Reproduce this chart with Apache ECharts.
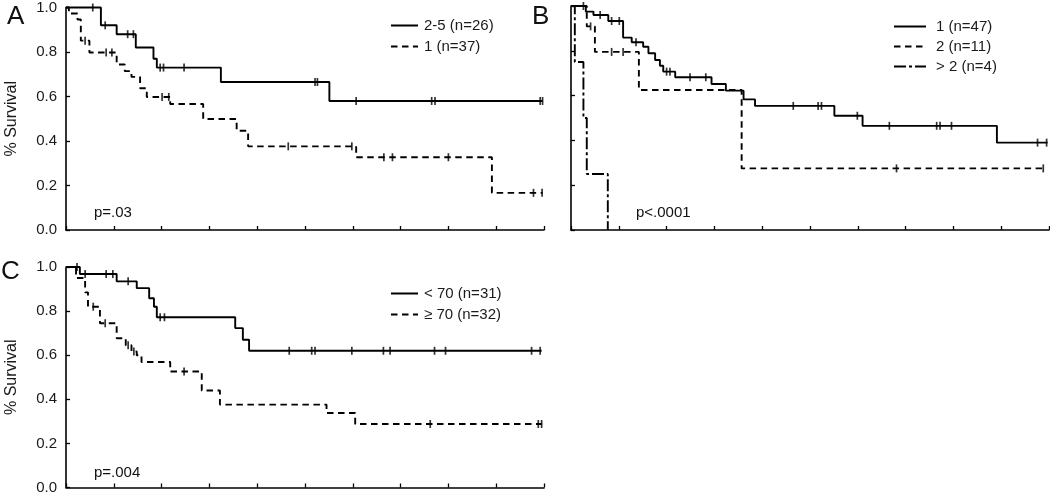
<!DOCTYPE html>
<html><head><meta charset="utf-8">
<script src="https://cdn.jsdelivr.net/npm/echarts@6/dist/echarts.min.js"></script>
<style>html,body{margin:0;padding:0;background:#fff}#c{width:1050px;height:495px}</style>
</head><body><div id="c"></div>
<script>
const FONT = '"Liberation Sans", Arial, sans-serif';
const yTickLabels = ['0.0', '0.2', '0.4', '0.6', '0.8', '1.0'];
const panelLetters = ['A', 'B', 'C'];
const pValues = ['p=.03', 'p<.0001', 'p=.004'];

// Panel A
const aNames = ['2-5 (n=26)', '1 (n=37)'];
const aSolidT = [0, 0.73, 1.06, 1.46, 1.83, 1.90, 3.24, 5.51, 9.97];
const aSolidS = [1.0, 0.92, 0.88, 0.82, 0.77, 0.73, 0.665, 0.58, 0.58];
const aSolidC = [0.56, 0.82, 1.29, 1.41, 1.97, 2.04, 2.47, 5.21, 5.26, 6.07, 7.65, 7.72, 9.92, 9.97];
const aDashT = [0, 0.06, 0.24, 0.31, 0.49, 1.06, 1.23, 1.37, 1.55, 1.69, 2.18, 2.87, 3.57, 3.81, 6.07, 8.91, 9.97];
const aDashS = [1.0, 0.973, 0.946, 0.851, 0.798, 0.744, 0.714, 0.688, 0.637, 0.598, 0.566, 0.499, 0.446, 0.376, 0.327, 0.167, 0.167];
const aDashC = [0.40, 0.84, 0.96, 2.01, 2.15, 4.65, 5.98, 6.65, 6.83, 8.00, 9.78, 9.96];

// Panel B
const bNames = ['1 (n=47)', '2 (n=11)', '> 2 (n=4)'];
const bSolidT = [0, 0.31, 0.47, 0.78, 1.09, 1.27, 1.51, 1.62, 1.76, 1.86, 1.93, 2.18, 2.94, 3.24, 3.61, 3.85, 5.51, 6.10, 8.91, 9.97];
const bSolidS = [1.0, 0.975, 0.96, 0.933, 0.859, 0.838, 0.818, 0.789, 0.759, 0.733, 0.707, 0.682, 0.652, 0.622, 0.583, 0.554, 0.51, 0.465, 0.39, 0.39];
const bSolidC = [0.26, 0.61, 0.85, 1.01, 1.36, 2.00, 2.07, 2.49, 2.82, 4.65, 5.17, 5.24, 5.99, 6.66, 7.65, 7.72, 7.96, 9.76, 9.95];
const bDashT = [0, 0.33, 0.50, 1.42, 3.57, 9.90];
const bDashS = [1.0, 0.909, 0.795, 0.625, 0.275, 0.275];
const bDashC = [0.41, 0.85, 1.09, 6.81, 9.88];
const bDotT = [0, 0.08, 0.26, 0.33, 0.77];
const bDotS = [1.0, 0.75, 0.5, 0.25, 0];

// Panel C
const cNames = ['< 70 (n=31)', '\u2265 70 (n=32)'];
const cSolidT = [0, 0.29, 1.06, 1.48, 1.74, 1.84, 1.90, 3.54, 3.70, 3.83, 9.95];
const cSolidS = [1.0, 0.968, 0.935, 0.904, 0.858, 0.82, 0.772, 0.723, 0.67, 0.62, 0.62];
const cSolidC = [0.23, 0.40, 0.84, 0.98, 1.30, 1.97, 2.06, 4.67, 5.14, 5.21, 5.98, 6.64, 6.78, 7.71, 7.94, 9.74, 9.92];
const cDashT = [0, 0.21, 0.40, 0.46, 0.71, 1.06, 1.25, 1.37, 1.48, 1.58, 2.18, 2.84, 3.22, 5.45, 6.05, 9.96];
const cDashS = [1.0, 0.95, 0.885, 0.82, 0.745, 0.677, 0.645, 0.617, 0.60, 0.569, 0.526, 0.44, 0.376, 0.338, 0.288, 0.288];
const cDashC = [0.57, 0.82, 1.30, 1.42, 2.47, 7.62, 9.88, 9.95];

function survAt(T, S, t) { let v = S[0]; for (let i = 0; i < T.length; i++) { if (T[i] <= t) v = S[i]; } return v; }
function steps(T, S) { return T.map((t, i) => [t, S[i]]); }
function cens(T, S, C) { return C.map(t => [t, survAt(T, S, t)]); }

const SOLID = 'solid', DASH = [6.5, 4.5], DASHDOT = [12, 3, 3, 3];

function kmSeries(name, gi, T, S, type) {
  return { name, type: 'line', xAxisIndex: gi, yAxisIndex: gi, step: 'end', data: steps(T, S),
    symbol: 'none', showSymbol: false, clip: false, animation: false, silent: true,
    lineStyle: { color: '#000', width: 1.9, type: type }, itemStyle: { color: '#000' }, z: 3 };
}
function censSeries(gi, T, S, C) {
  return { name: 'cens' + gi, type: 'scatter', xAxisIndex: gi, yAxisIndex: gi, data: cens(T, S, C),
    symbol: 'rect', symbolSize: [1.7, 8], itemStyle: { color: '#000' }, clip: false, animation: false, silent: true, z: 4 };
}
function xAx(gi) {
  return { gridIndex: gi, type: 'value', min: 0, max: 10, interval: 1,
    axisLine: { show: true, onZero: false, lineStyle: { color: '#000', width: 1.6 } },
    axisTick: { show: true, inside: true, length: 4, lineStyle: { color: '#000', width: 1.3 } },
    axisLabel: { show: false }, splitLine: { show: false } };
}
function yAx(gi, showLabels) {
  return { gridIndex: gi, type: 'value', min: 0, max: 1, interval: 0.2,
    axisLine: { show: true, onZero: false, lineStyle: { color: '#000', width: 1.6 } },
    axisTick: { show: true, inside: true, length: 4, lineStyle: { color: '#000', width: 1.3 } },
    axisLabel: { show: showLabels, formatter: v => yTickLabels[Math.round(v / 0.2)], fontSize: 15, color: '#1a1a1a', fontFamily: FONT, margin: 9 },
    splitLine: { show: false },
    name: showLabels ? '% Survival' : '', nameLocation: 'middle', nameGap: 46,
    nameTextStyle: { fontSize: 16, color: '#1a1a1a', fontFamily: FONT } };
}
function legendAt(left, top, names, gap, w, pad) {
  return { left, top, orient: 'vertical', data: names, itemWidth: w, itemHeight: 12, itemGap: gap,
    selectedMode: false, padding: 0,
    itemStyle: { color: 'rgba(0,0,0,0)', borderColor: 'rgba(0,0,0,0)', borderWidth: 0, opacity: 0 },
    textStyle: { fontSize: 15, color: '#1a1a1a', fontFamily: FONT, padding: [0, 0, 0, pad] } };
}
function txt(x, y, s, size) {
  return { type: 'text', x, y, silent: true,
    style: { text: s, fontSize: size, fontFamily: FONT, fill: '#111', textAlign: 'left', textVerticalAlign: 'middle', verticalAlign: 'middle' } };
}

const chart = echarts.init(document.getElementById('c'), null, { renderer: 'canvas' });
chart.setOption({
  animation: false,
  backgroundColor: '#fff',
  grid: [
    { left: 66, top: 6, width: 478, height: 224 },
    { left: 571, top: 6, width: 478, height: 224 },
    { left: 66, top: 267, width: 478, height: 221 }
  ],
  xAxis: [xAx(0), xAx(1), xAx(2)],
  yAxis: [yAx(0, true), yAx(1, false), yAx(2, true)],
  legend: [
    legendAt(390, 18, aNames, 6, 27, 1),
    legendAt(893, 19, bNames, 5, 32, 5),
    legendAt(390, 286, cNames, 6, 27, 1)
  ],
  graphic: [
    txt(7, 17, panelLetters[0], 26),
    txt(532, 17, panelLetters[1], 26),
    txt(1, 272, panelLetters[2], 26),
    txt(94, 213, pValues[0], 15),
    txt(636, 213, pValues[1], 15),
    txt(94, 473, pValues[2], 15)
  ],
  series: [
    kmSeries(aNames[0], 0, aSolidT, aSolidS, SOLID),
    kmSeries(aNames[1], 0, aDashT, aDashS, DASH),
    censSeries(0, aSolidT, aSolidS, aSolidC),
    censSeries(0, aDashT, aDashS, aDashC),
    kmSeries(bNames[0], 1, bSolidT, bSolidS, SOLID),
    kmSeries(bNames[1], 1, bDashT, bDashS, DASH),
    kmSeries(bNames[2], 1, bDotT, bDotS, DASHDOT),
    censSeries(1, bSolidT, bSolidS, bSolidC),
    censSeries(1, bDashT, bDashS, bDashC),
    kmSeries(cNames[0], 2, cSolidT, cSolidS, SOLID),
    kmSeries(cNames[1], 2, cDashT, cDashS, DASH),
    censSeries(2, cSolidT, cSolidS, cSolidC),
    censSeries(2, cDashT, cDashS, cDashC)
  ]
});
</script></body></html>
